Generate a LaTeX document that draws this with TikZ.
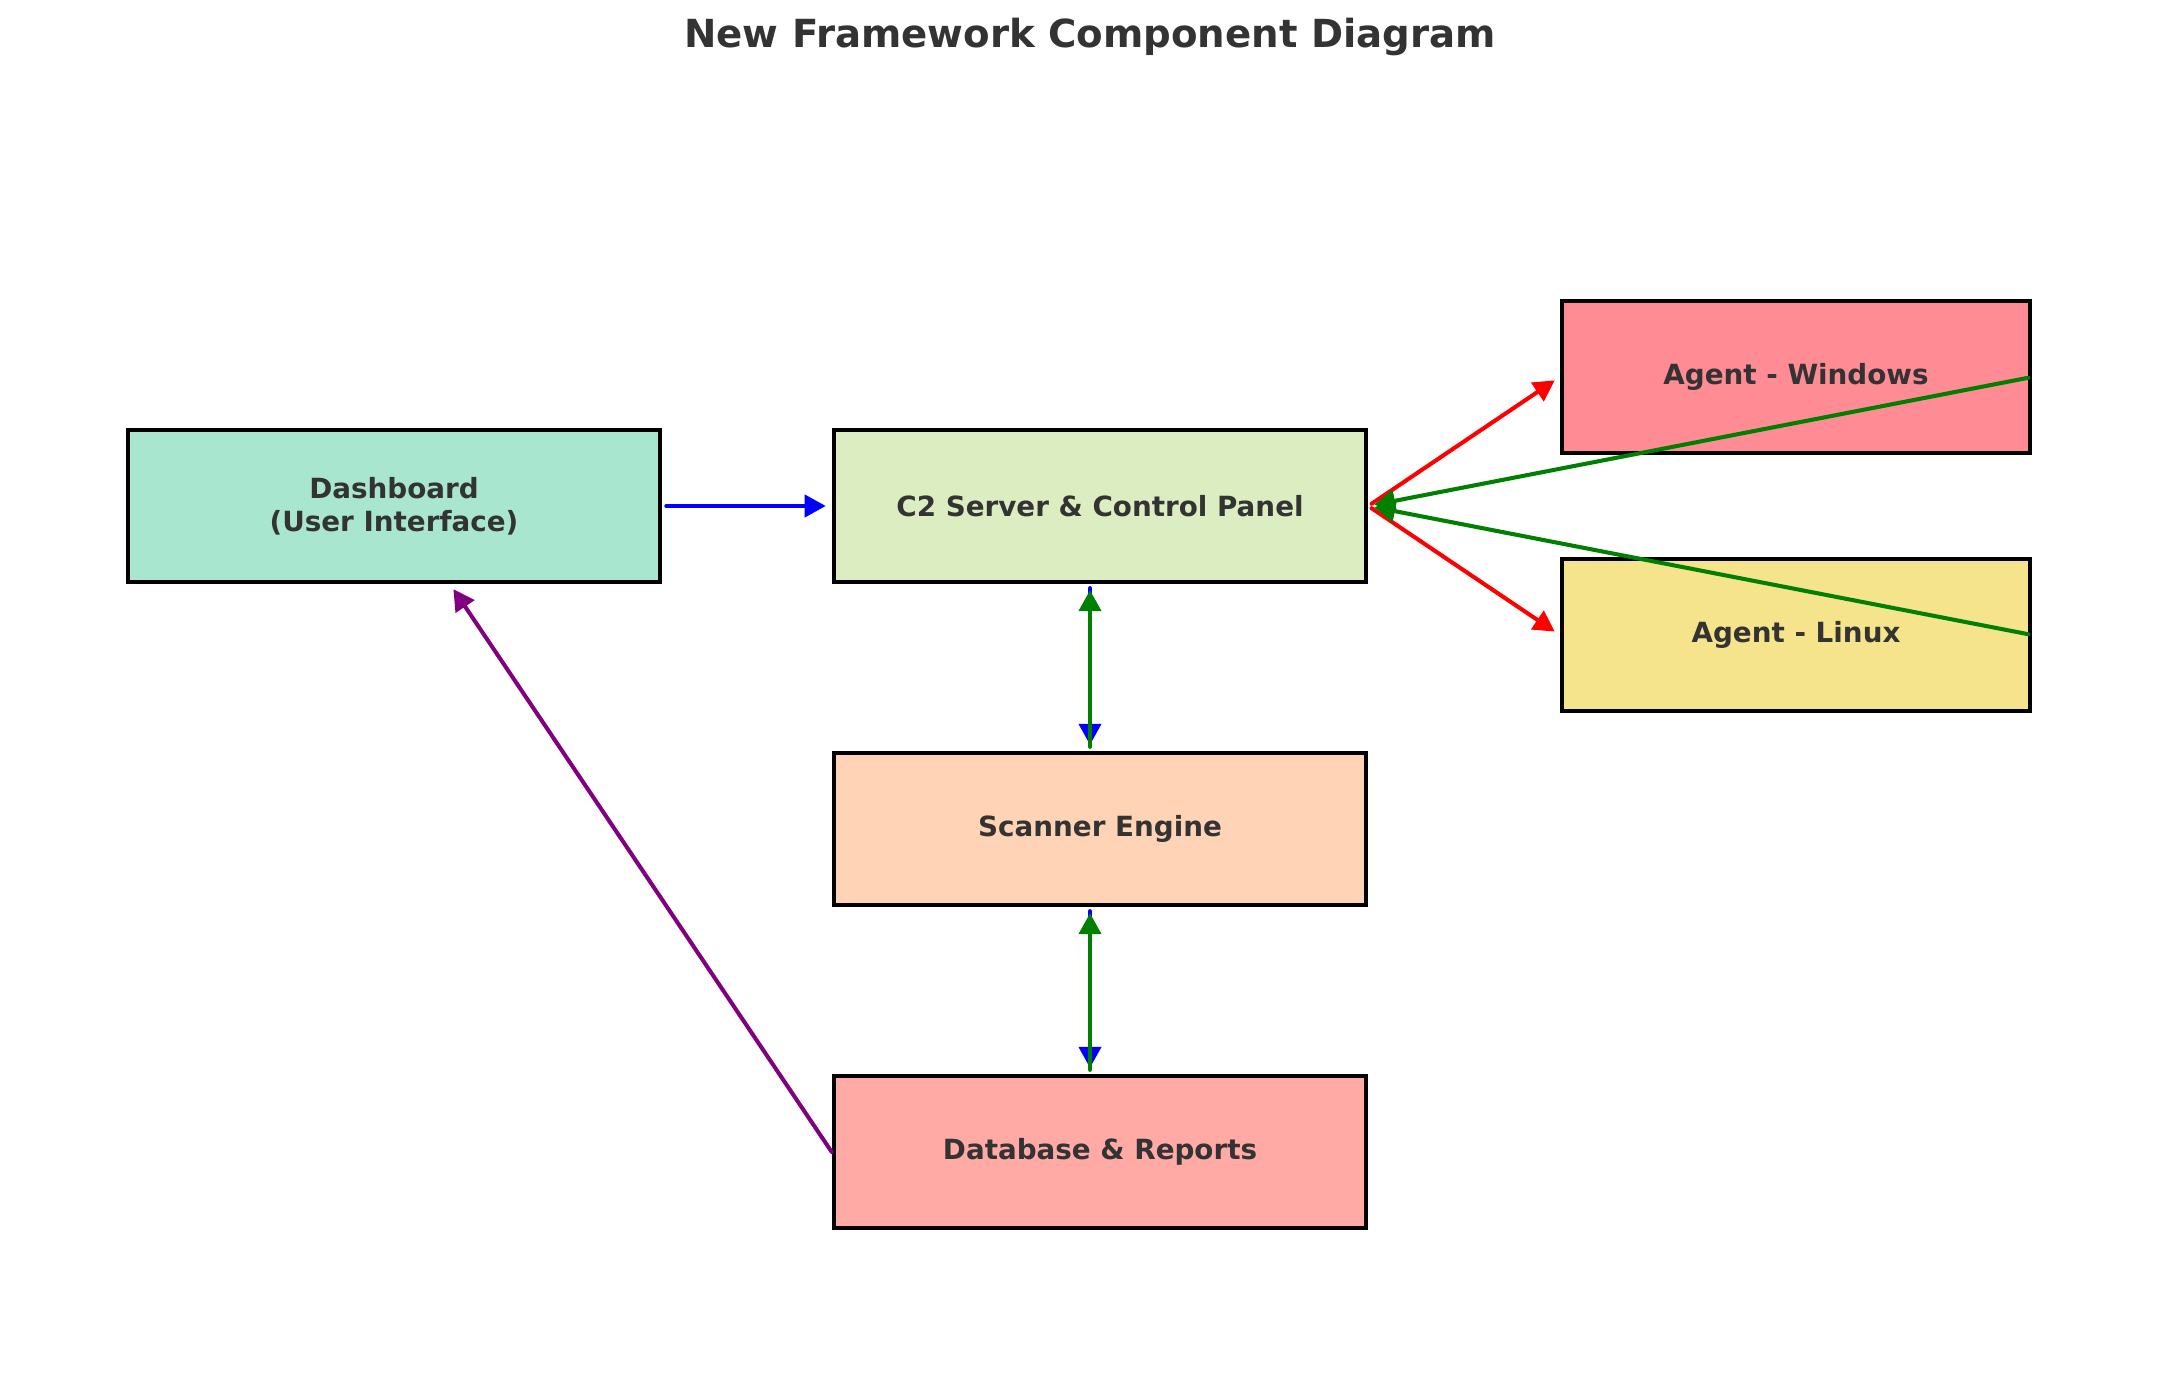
\documentclass[tikz,border=0pt]{standalone}
\usepackage{fontspec}
\setmainfont{DejaVu Sans}
\usetikzlibrary{arrows.meta}
\definecolor{txtgray}{HTML}{333333}
\definecolor{dashfill}{HTML}{A8E6CF}
\definecolor{cserverfill}{HTML}{DCEDC1}
\definecolor{scanfill}{HTML}{FFD3B6}
\definecolor{dbfill}{HTML}{FFAAA5}
\definecolor{winfill}{HTML}{FF8B94}
\definecolor{linfill}{HTML}{F6E48C}
\definecolor{mplgreen}{HTML}{008000}
\definecolor{mplpurple}{HTML}{800080}

\begin{document}
\begin{tikzpicture}[x=0.01cm, y=-0.01cm,
  box/.style={draw=black, line width=1.2pt, minimum width=5.32cm, minimum height=1.52cm,
    inner sep=0pt, align=center, text=txtgray, font=\bfseries\fontsize{7.9}{9.5}\selectfont},
  agentbox/.style={box, minimum width=4.68cm},
  link/.style={line width=1.15pt, line cap=round, -{Triangle[length=0.21cm, width=0.22cm]},
    shorten <=0.04cm, shorten >=0.06cm}]
\useasboundingbox (0,0) rectangle (2179,1380);
% --- Title ---
\node[text=txtgray, font=\bfseries\fontsize{11}{13}\selectfont] (title) at (1090,37) {New Framework Component Diagram};
% --- Components ---
\node[box, fill=dashfill] (dash) at (394,506) {Dashboard\\(User Interface)};
\node[box, fill=cserverfill] (c2) at (1100,506) {C2 Server \& Control Panel};
\node[box, fill=scanfill] (scan) at (1100,829) {Scanner Engine};
\node[box, fill=dbfill] (db) at (1100,1152) {Database \& Reports};
% --- Agents ---
\node[agentbox, fill=winfill] (agw) at (1796,377) {Agent - Windows};
\node[agentbox, fill=linfill] (agl) at (1796,635) {Agent - Linux};
%
% --- Edges ---
\draw[link, blue] (dash.east) -- (c2.west);
\draw[link, red] (c2.east) -- (agw.west);
\draw[link, red] (c2.east) -- (agl.west);
\draw[link, mplgreen] (agw.east) -- (c2.east); % beacon back
\draw[link, mplgreen] (agl.east) -- (c2.east); % beacon back
%
\draw[link, blue] ([xshift=-0.1cm]c2.south) -- ([xshift=-0.1cm]scan.north);
\draw[link, mplgreen] ([xshift=-0.1cm]scan.north) -- ([xshift=-0.1cm]c2.south);
\draw[link, blue] ([xshift=-0.1cm]scan.south) -- ([xshift=-0.1cm]db.north);
\draw[link, mplgreen] ([xshift=-0.1cm]db.north) -- ([xshift=-0.1cm]scan.south);
% --- Reports back to dashboard ---
\draw[link, mplpurple, shorten <=0pt] (db.west) -- ([xshift=0.56cm]dash.south);
%
\end{tikzpicture}
\end{document}
